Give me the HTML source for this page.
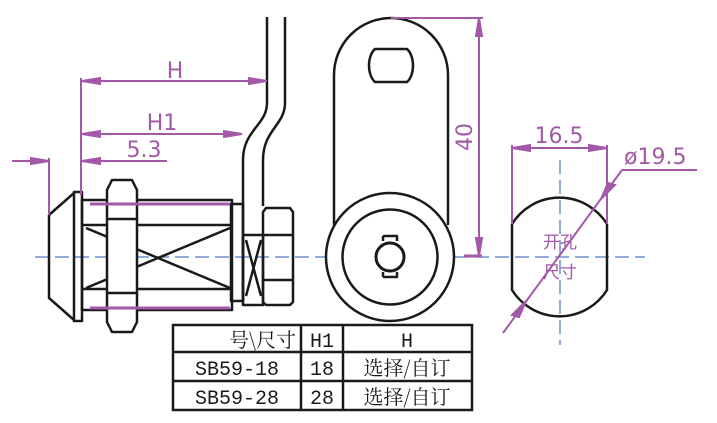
<!DOCTYPE html>
<html><head><meta charset="utf-8"><style>
html,body{margin:0;padding:0;background:#fff;width:717px;height:423px;overflow:hidden}
</style></head><body>
<svg width="717" height="423" viewBox="0 0 717 423" xmlns="http://www.w3.org/2000/svg">
<g stroke="#6f8fcf" stroke-width="1.5" stroke-dasharray="14,6" fill="none">
<line x1="35" y1="257" x2="645" y2="257"/>
<line x1="560" y1="160" x2="560" y2="345"/>
</g>
<g stroke="#1a1a1a" stroke-width="2.5" fill="none" stroke-linejoin="round">
<path d="M267 17 V103 C267 125 243 130 243 160 V300"/>
<path d="M285 17 V103 C285 125 263 130 263 160 V206"/>
<path d="M49 215 V298 L74 320 M49 215 L74 193"/>
<rect x="74" y="192" width="8" height="129"/>
<rect x="82" y="200" width="150" height="110"/>
<line x1="82" y1="225" x2="232" y2="225"/>
<line x1="82" y1="289" x2="232" y2="289"/>
<path d="M86 228 L230 288 M86 288 L230 228"/>
<path d="M112 180 H132 L137 190 V322 L132 332 H112 L107 322 V190 Z" fill="#fff"/>
<line x1="107" y1="219" x2="137" y2="219"/>
<line x1="107" y1="293" x2="137" y2="293"/>
<rect x="231" y="204" width="12" height="97"/>
<rect x="243" y="235" width="20" height="70"/>
<path d="M246 240 L261 296 M246 296 L261 240"/>
<path d="M266 208 H290 L293 212 V302 L290 305 H266 L263 302 V212 Z"/>
<line x1="263" y1="235" x2="293" y2="235"/>
<line x1="263" y1="280" x2="293" y2="280"/>
<path d="M334 225 V75 A57 57 0 0 1 448 75 V225"/>
<circle cx="390" cy="257" r="64" fill="#fff"/>
<circle cx="390" cy="257" r="47.5"/>
<path d="M375 49 H407 C415 56 415 75 407 82 H375 C367 75 367 56 375 49 Z"/>
<path d="M383 236 H397 V241 M383 236 V241 M383 277 H397 V272 M383 277 V272"/>
<circle cx="390" cy="257" r="14" stroke-width="3"/>
<path d="M512 224 A56 56 0 0 1 607 224 V290 A56 56 0 0 1 512 290 Z"/>
</g>
<g stroke="#a259a8" stroke-width="2" fill="#a259a8">
<line x1="81" y1="78" x2="81" y2="195"/>
<line x1="82" y1="81" x2="267" y2="81"/>
<line x1="82" y1="134" x2="242" y2="134"/>
<line x1="49" y1="158" x2="49" y2="215"/>
<line x1="12" y1="161" x2="49" y2="161"/>
<line x1="82" y1="161" x2="167" y2="161"/>
<line x1="90" y1="204" x2="230" y2="204" stroke-width="3"/>
<line x1="90" y1="308" x2="230" y2="308" stroke-width="3"/>
<polygon points="82,81 100,78 100,84"/><polygon points="267,81 249,78 249,84"/>
<polygon points="82,134 100,131 100,137"/><polygon points="242,134 224,131 224,137"/>
<polygon points="49,161 31,158 31,164"/><polygon points="82,161 100,158 100,164"/>
<line x1="391" y1="18" x2="483" y2="18"/>
<line x1="464" y1="256" x2="482" y2="256" stroke-width="3"/>
<line x1="479" y1="18" x2="479" y2="256"/>
<polygon points="479,18 476,36 482,36"/><polygon points="479,256 476,238 482,238"/>
<line x1="512" y1="145" x2="512" y2="224"/>
<line x1="607" y1="145" x2="607" y2="224"/>
<line x1="512" y1="148" x2="607" y2="148"/>
<polygon points="512,148 530,145 530,151"/><polygon points="607,148 589,145 589,151"/>
<line x1="503" y1="333" x2="622" y2="170"/>
<line x1="622" y1="170" x2="697" y2="170"/>
<polygon points="526,301 512,315 519,317" /><polygon points="601,199 615,185 608,183"/>
</g>
<g fill="#a259a8" font-family="'DejaVu Sans','Liberation Sans',sans-serif" font-size="22">
<text x="175" y="78" text-anchor="middle">H</text>
<text x="162" y="130" text-anchor="middle">H1</text>
<text x="144" y="157" text-anchor="middle">5.3</text>
<text x="559" y="143" text-anchor="middle">16.5</text>
<text x="624" y="164">ø19.5</text>
<text transform="translate(472,137) rotate(-90)" text-anchor="middle">40</text>
<text x="560" y="248" text-anchor="middle" font-family="'Noto Sans CJK SC',sans-serif" font-size="17">开孔</text>
<text x="560" y="278" text-anchor="middle" font-family="'Noto Sans CJK SC',sans-serif" font-size="17">尺寸</text>
</g>
<g stroke="#1a1a1a" stroke-width="2.5" fill="none">
<rect x="173" y="325" width="299" height="85"/>
<line x1="173" y1="352" x2="472" y2="352"/>
<line x1="173" y1="381" x2="472" y2="381"/>
<line x1="301" y1="325" x2="301" y2="410"/>
<line x1="343" y1="325" x2="343" y2="410"/>
</g>
<g fill="#1a1a1a" font-family="'Liberation Mono','Noto Serif CJK SC',monospace" font-size="20" text-anchor="middle">
<text x="296" y="347" text-anchor="end" font-family="'Noto Serif CJK SC',serif">号\尺寸</text>
<text x="322" y="347">H1</text>
<text x="407" y="347">H</text>
<text x="237" y="375">SB59-18</text>
<text x="322" y="375">18</text>
<text x="407" y="375" font-family="'Noto Serif CJK SC',serif">选择/自订</text>
<text x="237" y="404">SB59-28</text>
<text x="322" y="404">28</text>
<text x="407" y="404" font-family="'Noto Serif CJK SC',serif">选择/自订</text>
</g>
</svg>
</body></html>
